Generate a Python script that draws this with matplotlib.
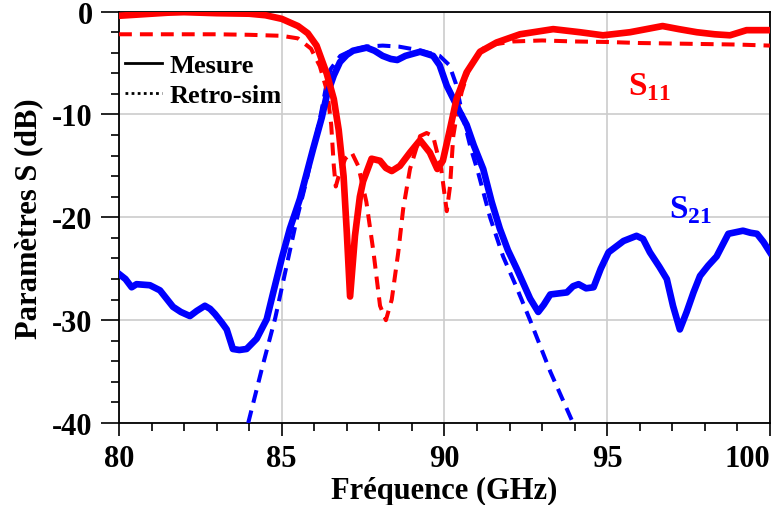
import matplotlib
matplotlib.use('Agg')
import matplotlib.pyplot as plt
from matplotlib.lines import Line2D
from matplotlib.ticker import MultipleLocator

plt.rcParams['font.family'] = ['Liberation Serif', 'DejaVu Serif']
plt.rcParams['font.weight'] = 'bold'
plt.rcParams['axes.unicode_minus'] = False
plt.rcParams['mathtext.fontset'] = 'custom'
plt.rcParams['mathtext.rm'] = 'Liberation Serif:bold'
plt.rcParams['mathtext.bf'] = 'Liberation Serif:bold'

# S11 mesure
f_s11_mes = [80.0, 80.5, 81.0, 81.5, 82.0, 83.0, 84.0, 84.5, 85.0, 85.5, 85.8, 86.07,
             86.38, 86.6, 86.75, 86.9, 87.0, 87.1, 87.25, 87.4, 87.5, 87.76, 88.02,
             88.2, 88.38, 88.63, 88.94, 89.25, 89.55, 89.78, 89.95, 90.17, 90.37,
             90.68, 91.09, 91.6, 92.32, 93.34, 94.16, 94.87, 95.7, 96.7, 97.2, 97.75,
             98.3, 98.77, 99.28, 100.0]
s11_mes = [-0.4, -0.3, -0.2, -0.1, -0.05, -0.15, -0.2, -0.35, -0.7, -1.4, -2.1, -3.3,
           -6.0, -8.5, -11.5, -16.0, -21.5, -27.7, -21.8, -18.0, -16.5, -14.3, -14.5,
           -15.2, -15.5, -15.0, -13.7, -12.5, -13.7, -15.3, -14.5, -11.4, -8.5,
           -5.9, -3.9, -3.0, -2.2, -1.7, -2.0, -2.3, -2.0, -1.4, -1.7, -2.0,
           -2.2, -2.3, -1.8, -1.8]

# S11 retro-simulation
f_s11_sim = [80, 81, 82, 83, 84, 85, 85.5, 85.9, 86.17, 86.4, 86.52, 86.6, 86.66,
             86.75, 86.95, 87.15, 87.35, 87.6, 87.82, 88.02, 88.2, 88.38, 88.58,
             88.73, 88.94, 89.25, 89.45, 89.65, 89.9, 90.07, 90.17, 90.27, 90.4,
             90.53, 90.78, 91.05, 91.3, 92.1, 93, 94, 95, 96, 97, 98, 99, 100]
s11_sim = [-2.2, -2.2, -2.2, -2.2, -2.25, -2.35, -2.6, -3.6, -5.3, -7.8, -11.0, -15.0, -17.0,
           -16.0, -14.3, -13.7, -15.0, -18.5, -23.4, -28.6, -30.0, -28.0, -23.4,
           -19.2, -15.3, -12.1, -11.8, -12.1, -15.3, -19.4, -17.0, -12.1, -9.6,
           -7.8, -5.3, -4.0, -3.3, -2.9, -2.8, -2.9, -2.95, -3.05, -3.1, -3.15, -3.2, -3.3]

# S21 mesure
f_s21_mes = [80.0, 80.2, 80.39, 80.54, 80.95, 81.26, 81.66, 81.9, 82.18, 82.39, 82.64,
             82.8, 82.95, 83.15, 83.31, 83.5, 83.7, 83.92, 84.23, 84.54, 84.74, 85.0,
             85.25, 85.56, 85.96, 86.23, 86.38, 86.6, 86.79, 87.0, 87.19, 87.61, 87.85,
             88.1, 88.35, 88.55, 88.8, 89.25, 89.65, 89.85, 90.07, 90.48, 90.68, 90.9,
             91.19, 91.45, 91.7, 91.95, 92.22, 92.63, 92.88, 93.05, 93.25, 93.5, 93.76,
             93.95, 94.12, 94.35, 94.58, 94.8, 95.04, 95.5, 95.9, 96.1, 96.31, 96.6,
             96.83, 97.02, 97.23, 97.44, 97.65, 97.85, 98.1, 98.36, 98.72, 99.17, 99.4,
             99.6, 99.8, 100.0]
s21_mes = [-25.5, -26.0, -26.8, -26.5, -26.6, -27.1, -28.7, -29.2, -29.6, -29.1, -28.6,
           -28.9, -29.4, -30.2, -30.9, -32.8, -32.9, -32.8, -31.8, -29.9, -27.3, -24.0,
           -21.1, -18.2, -13.4, -10.3, -8.2, -6.2, -4.9, -4.2, -3.8, -3.5, -3.8,
           -4.3, -4.6, -4.7, -4.3, -3.9, -4.3, -5.2, -7.2, -9.8, -11.0, -13.0,
           -15.3, -18.5, -21.1, -23.2, -25.0, -27.9, -29.2, -28.5, -27.5, -27.4, -27.3,
           -26.7, -26.5, -26.9, -26.8, -25.0, -23.4, -22.3, -21.8, -22.1, -23.4, -24.8,
           -26.0, -28.6, -30.9, -29.2, -27.3, -25.7, -24.7, -23.8, -21.6, -21.3, -21.5,
           -21.6, -22.4, -23.4]

# S21 retro-simulation
f_s21_sim = [83.97, 84.4, 84.8, 85.15, 85.46, 85.77, 86.0, 86.2, 86.35, 86.5, 86.8, 87.2,
             87.6, 88.1, 88.6, 89.3, 89.85, 90.15, 90.35, 90.55, 90.8, 91.03, 91.4,
             91.8, 92.2, 92.63, 93.25, 93.95]
s21_sim = [-40.0, -34.6, -29.8, -24.7, -20.2, -16.3, -12.9, -10.0, -7.5, -5.6, -4.3, -3.7,
           -3.4, -3.3, -3.4, -3.8, -4.3, -5.2, -7.0, -10.0, -13.2, -15.6, -20.0,
           -23.8, -26.7, -30.0, -35.0, -40.0]

fig = plt.figure(figsize=(7.71, 5.06), dpi=100)
ax = fig.add_axes([0.1543, 0.162, 0.8444, 0.813])

dash = (0, (3.2, 2.0))
ax.plot(f_s21_sim, s21_sim, color='#0000ff', lw=2.9, ls=dash, zorder=3)
ax.plot(f_s21_mes, s21_mes, color='#0000ff', lw=4.8, zorder=4, solid_joinstyle='round')
ax.plot(f_s11_sim, s11_sim, color='#ff0000', lw=2.9, ls=dash, zorder=3)
ax.plot(f_s11_mes, s11_mes, color='#ff0000', lw=4.8, zorder=4, solid_joinstyle='round')

ax.set_xlim(80, 100)
ax.set_ylim(-40, 0)
ax.xaxis.set_major_locator(MultipleLocator(5))
ax.xaxis.set_minor_locator(MultipleLocator(1))
ax.yaxis.set_major_locator(MultipleLocator(10))
ax.yaxis.set_minor_locator(MultipleLocator(2))
ax.grid(True, which='major', color='#cccccc', lw=1.2)
ax.set_axisbelow(True)

ax.tick_params(axis='both', which='both', direction='out', color='black', width=1.2,
               labelsize=22)
ax.tick_params(axis='x', which='major', length=9, pad=6)
ax.tick_params(axis='y', which='major', length=13, pad=6)
ax.tick_params(axis='both', which='minor', length=6)
for s in ax.spines.values():
    s.set_linewidth(1.3)

ax.set_xlabel('Fréquence (GHz)', fontsize=22, fontweight='bold', labelpad=2)
ax.set_ylabel('Paramètres S (dB)', fontsize=22, fontweight='bold', labelpad=6)

ax.set_xticks([80, 85, 90, 95, 100])
ax.set_xticklabels(['80', '85', '90', '95', '100'])
ax.get_xticklabels()[-1].set_horizontalalignment('right')

handles = [Line2D([], [], color='black', lw=2),
           Line2D([], [], color='black', lw=2, ls=(0, (1, 1.2)))]
ax.legend(handles, ['Mesure', 'Retro-sim'], loc='upper left',
          bbox_to_anchor=(0.009, 0.898), frameon=False, borderaxespad=0,
          borderpad=0, handlelength=1.4, handletextpad=0.3, labelspacing=0.25,
          prop={'family': 'Liberation Serif', 'weight': 'bold', 'size': 19})

ax.text(95.65, -8.0, r'$\mathrm{S}_{11}$', color='#ff0000', fontsize=24)
ax.text(96.9, -20.0, r'$\mathrm{S}_{21}$', color='#0000ff', fontsize=24)

fig.savefig('out.png', dpi=100)
